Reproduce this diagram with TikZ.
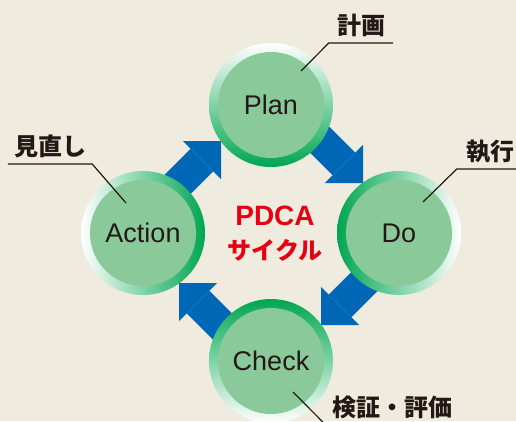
\documentclass[tikz,border=0pt]{standalone}
\usepackage{fontspec}
\setmainfont{Liberation Sans}
\newfontfamily\cjk{Noto Sans CJK JP}
\usepackage{xcolor}
\usetikzlibrary{arrows.meta}
\definecolor{bgcream}{HTML}{EFECDF}
\definecolor{ringgreen}{HTML}{00A651}
\definecolor{discgreen}{HTML}{8AC999}
\definecolor{flowblue}{HTML}{0067B6}
\definecolor{inkdark}{HTML}{231815}
\definecolor{cyclered}{HTML}{E60012}

\begin{document}
\begin{tikzpicture}[x=1pt,y=1pt,
 phase/.style={circle, minimum size=124pt, inner sep=0pt, text=inkdark,
   font=\fontsize{27}{30}\selectfont,
   path picture={\fill[discgreen] (path picture bounding box.center) circle (53pt);}},
 flow/.style={flowblue, line width=32pt,
   -{Triangle[width=54pt,length=27pt,line width=0pt]}},
 callout/.style={inkdark, line width=1.2pt},
 tag/.style={anchor=south, text=inkdark, inner xsep=0pt, inner ysep=8pt,
   text height=18pt, text depth=0pt,
   font=\cjk\bfseries\fontsize{24}{26}\selectfont}]
% Background
\fill[bgcream] (0,0) rectangle (516,421);
\useasboundingbox (0,0) rectangle (516,421);
\clip (0,0) rectangle (516,421);
% Arrow Ends
 \coordinate (pd-tail) at (300,301);
 \coordinate (pd-tip) at (363,238);
 \coordinate (dc-tail) at (384,159);
 \coordinate (dc-tip) at (321,96);
 \coordinate (ca-tail) at (242,75);
 \coordinate (ca-tip) at (179,138);
 \coordinate (ap-tail) at (158,217);
 \coordinate (ap-tip) at (221,280);
 % Cycle Arrows:
 \draw[flow] (pd-tail) -- (pd-tip);
 \draw[flow] (dc-tail) -- (dc-tip);
 \draw[flow] (ca-tail) -- (ca-tip);
 \draw[flow] (ap-tail) -- (ap-tip);
 % Phases
 \node[phase, top color=white, bottom color=ringgreen] (plan) at (271,316) {Plan};
 \node[phase, left color=ringgreen, right color=white] (do) at (399,188) {Do};
 \node[phase, top color=ringgreen, bottom color=white] (check) at (271,60) {Check};
 \node[phase, left color=white, right color=ringgreen] (act) at (143,188) {Action};
 %
 % Labels:
 \node[tag, minimum width=64pt] (lplan) at (361,378) {計画};
 \node[tag, minimum width=66pt] (ldo) at (490,252) {執行};
 \node[tag, minimum width=132pt] (lcheck) at (392,-4) {検証・評価};
 \node[tag, minimum width=84pt] (lact) at (50,257) {見直し};
 \draw[callout] ([shift={(30,34)}]plan.center) -- (lplan.south west) -- (lplan.south east);
 \draw[callout] ([shift={(24,31)}]do.center) -- (ldo.south west) -- (ldo.south east);
 \draw[callout] ([shift={(22,-31)}]check.center) -- (lcheck.south west) -- (lcheck.south east);
 \draw[callout] ([shift={(-17,30)}]act.center) -- (lact.south east) -- (lact.south west);
 % Title
 \node[text=cyclered, align=center, font=\bfseries\fontsize{28}{34}\selectfont] (title) at (275,187)
   {PDCA\\{\cjk\fontsize{24}{34}\selectfont サイクル}};
\end{tikzpicture}
\end{document}
